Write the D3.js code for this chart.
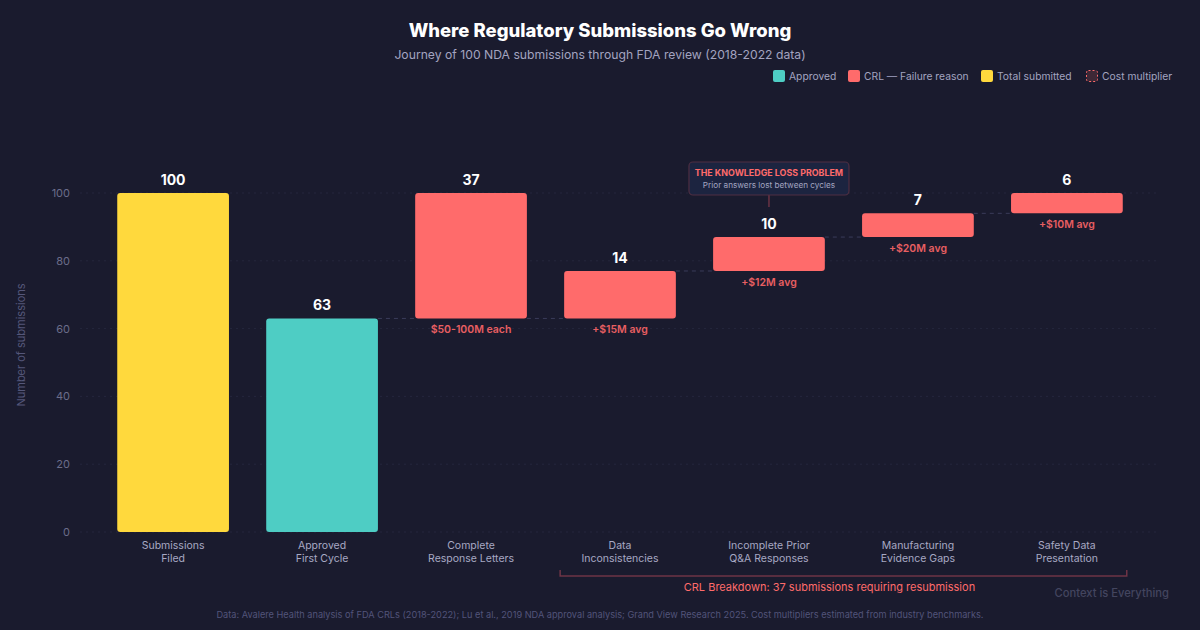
<!DOCTYPE html>
<html><head><meta charset="utf-8">
<script src="https://cdn.jsdelivr.net/npm/d3@7"></script>
<style>
html,body{margin:0;padding:0;background:#1a1b2e;}
svg{display:block;font-family:Inter,"Noto Sans",sans-serif;}
</style></head>
<body><svg id="c" width="1200" height="630"></svg>
<script>
const categories = ["Submissions\nFiled","Approved\nFirst Cycle","Complete\nResponse Letters","Data\nInconsistencies","Incomplete Prior\nQ&A Responses","Manufacturing\nEvidence Gaps","Safety Data\nPresentation"];
const barStart = [0, 0, 63, 63, 77, 87, 94];
const barEnd = [100, 63, 100, 77, 87, 94, 100];
const barValues = [100, 63, 37, 14, 10, 7, 6];
const barTypes = ["total","approved","crl","crl","crl","crl","crl"];
const costLabels = ["", "", "$50-100M each", "+$15M avg", "+$12M avg", "+$20M avg", "+$10M avg"];
const yTicks = [0, 20, 40, 60, 80, 100];
const legendItems = [["Approved","approved"],["CRL — Failure reason","crl"],["Total submitted","total"],["Cost multiplier","cost"]];

const colors = {total:"#ffd93d", approved:"#4ecdc4", crl:"#ff6b6b"};
const svg = d3.select("#c");

const x = d3.scaleBand().domain(categories).range([80,1160]).paddingInner(0.25).paddingOuter(0.25);
const y = d3.scaleLinear().domain([0,100]).range([532,193]);

// title
svg.append("text").attr("x",600).attr("y",37).attr("text-anchor","middle").attr("fill","#ffffff")
  .attr("font-size",18.5).attr("font-weight",800).text("Where Regulatory Submissions Go Wrong");
svg.append("text").attr("x",600).attr("y",59).attr("text-anchor","middle").attr("fill","#a3a4c0")
  .attr("font-size",12.2).text("Journey of 100 NDA submissions through FDA review (2018-2022 data)");

// legend
const legendX = [773, 848, 981, 1086];
legendItems.forEach((d,i)=>{
  const g = svg.append("g").attr("transform",`translate(${legendX[i]},70)`);
  if(d[1]==="cost"){
    g.append("rect").attr("x",0.5).attr("y",0.5).attr("width",11).attr("height",11).attr("rx",2)
      .attr("fill","#3e2836").attr("stroke","#ff6b6b").attr("stroke-dasharray","2,2").attr("stroke-width",1);
  } else {
    g.append("rect").attr("width",12).attr("height",12).attr("rx",2).attr("fill",colors[d[1]]);
  }
  g.append("text").attr("x",16).attr("y",10).attr("fill","#a3a4c0").attr("font-size",10.3).text(d[0]);
});

// gridlines
svg.append("g").selectAll("line").data(yTicks).join("line")
  .attr("x1",80).attr("x2",1160).attr("y1",d=>y(d)).attr("y2",d=>y(d))
  .attr("stroke","#25273d").attr("stroke-dasharray","2,4").attr("stroke-width",1);

// y axis
const yAxis = d3.axisLeft(y).tickValues(yTicks).tickSize(0).tickPadding(10);
const ga = svg.append("g").attr("transform","translate(80,0)").call(yAxis);
ga.select(".domain").remove();
ga.selectAll("text").attr("fill","#6b6d8a").attr("font-size",11).attr("font-family","Inter,sans-serif");

svg.append("text").attr("transform","translate(25,345) rotate(-90)").attr("text-anchor","middle")
  .attr("fill","#55577a").attr("font-size",11).text("Number of submissions");

// connectors
const connectorPairs = [[1,2,63],[2,3,63],[3,4,77],[4,5,87],[5,6,94]];
svg.append("g").selectAll("line").data(connectorPairs).join("line")
  .attr("x1",d=>x(categories[d[0]])+x.bandwidth()).attr("x2",d=>x(categories[d[1]]))
  .attr("y1",d=>y(d[2])).attr("y2",d=>y(d[2]))
  .attr("stroke","#3a3c5a").attr("stroke-dasharray","4,4").attr("stroke-width",1);

// bars
svg.append("g").selectAll("rect").data(categories).join("rect")
  .attr("x",d=>x(d)).attr("width",x.bandwidth())
  .attr("y",(d,i)=>y(barEnd[i])).attr("height",(d,i)=>y(barStart[i])-y(barEnd[i]))
  .attr("rx",3).attr("fill",(d,i)=>colors[barTypes[i]]);

// value labels
svg.append("g").selectAll("text").data(categories).join("text")
  .attr("x",d=>x(d)+x.bandwidth()/2).attr("y",(d,i)=>y(barEnd[i])-8)
  .attr("text-anchor","middle").attr("fill","#ffffff").attr("font-size",14).attr("font-weight",700)
  .text((d,i)=>barValues[i]);

// cost labels
svg.append("g").selectAll("text").data(categories).join("text")
  .attr("x",d=>x(d)+x.bandwidth()/2).attr("y",(d,i)=>y(barStart[i])+15)
  .attr("text-anchor","middle").attr("fill","#e85f62").attr("font-size",10.5).attr("font-weight",600)
  .text((d,i)=>costLabels[i]);

// x labels
svg.append("g").selectAll("text").data(categories).join("text")
  .attr("y",549).attr("text-anchor","middle")
  .attr("fill","#a8a9c4").attr("font-size",10.5)
  .each(function(d){
    const cx = x(d)+x.bandwidth()/2;
    d3.select(this).selectAll("tspan").data(d.split("\n")).join("tspan")
      .attr("x",cx).attr("dy",(l,j)=>j===0?0:13).text(l=>l);
  });

// annotation
const ax = x(categories[4])+x.bandwidth()/2;
svg.append("line").attr("x1",ax).attr("x2",ax).attr("y1",195).attr("y2",207)
  .attr("stroke","#6a3344").attr("stroke-width",1.5);
svg.append("rect").attr("x",ax-80).attr("y",162).attr("width",160).attr("height",33).attr("rx",4)
  .attr("fill","#1c2440").attr("stroke","#4e2e42").attr("stroke-width",1.2);
svg.append("text").attr("x",ax).attr("y",176).attr("text-anchor","middle").attr("fill","#ff6b6b")
  .attr("font-size",8.9).attr("font-weight",700).text("THE KNOWLEDGE LOSS PROBLEM");
svg.append("text").attr("x",ax).attr("y",188).attr("text-anchor","middle").attr("fill","#a3a4c0")
  .attr("font-size",8.2).text("Prior answers lost between cycles");

// bracket
const bx1 = x(categories[3])-4, bx2 = x(categories[6])+x.bandwidth()+4;
svg.append("path").attr("d",`M${bx1},570 V576 H${bx2} V570`).attr("fill","none")
  .attr("stroke","#6e3446").attr("stroke-width",1.5);
svg.append("text").attr("x",(bx1+bx2)/2 - 14).attr("y",591).attr("text-anchor","middle")
  .attr("fill","#ff6b6b").attr("font-size",11).text("CRL Breakdown: 37 submissions requiring resubmission");

svg.append("text").attr("x",1169).attr("y",597).attr("text-anchor","end").attr("fill","#43455f")
  .attr("font-size",11.2).attr("font-weight",500).text("Context is Everything");

svg.append("text").attr("x",600).attr("y",618).attr("text-anchor","middle").attr("fill","#52547a")
  .attr("font-size",9.2).text("Data: Avalere Health analysis of FDA CRLs (2018-2022); Lu et al., 2019 NDA approval analysis; Grand View Research 2025. Cost multipliers estimated from industry benchmarks.");
</script></body></html>
